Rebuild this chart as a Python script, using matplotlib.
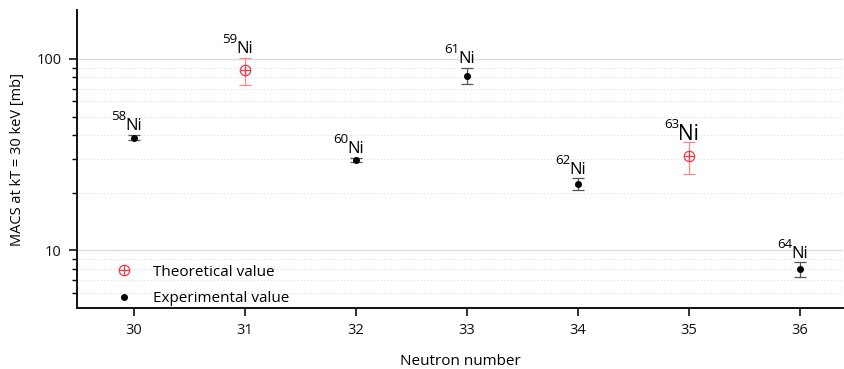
import matplotlib
matplotlib.use("Agg")
import matplotlib.pyplot as plt
import numpy as np
from matplotlib.path import Path
from matplotlib.ticker import NullFormatter, FixedLocator, FixedFormatter

plt.rcParams['font.family'] = ['Open Sans', 'DejaVu Sans']

# Data
neutrons = [30, 31, 32, 33, 34, 35, 36]
isotopes = ['58', '59', '60', '61', '62', '63', '64']
element = 'Ni'
macs = [38.8, 87.0, 29.8, 81.5, 22.3, 31.0, 8.0]
macs_err = [1.0, 14.0, 0.7, 8.0, 1.6, 6.0, 0.7]
is_theory = [False, True, False, False, False, True, False]

# label styling
label_size = [12, 12, 12, 12, 12, 15, 12]
label_gap_px = [5, 5, 5, 5, 4, 2, 4]
sup_raise_px = [10, 10, 10, 10, 10, 12, 10]
sup_size = 9.5

fig = plt.figure(figsize=(8.44, 3.69), dpi=100)
ax = fig.add_axes([77/844, (369-308)/369, (843-77)/844, (308-10)/369])

# circle-plus marker
circ = Path.unit_circle()
h = Path([[-1, 0], [1, 0]], [Path.MOVETO, Path.LINETO])
v = Path([[0, -1], [0, 1]], [Path.MOVETO, Path.LINETO])
oplus = Path.make_compound_path(circ, h, v)

red = '#ee3b45'
red_err = '#f08a8f'

xe = [n for n, t in zip(neutrons, is_theory) if not t]
ye = [m for m, t in zip(macs, is_theory) if not t]
ee = [e for e, t in zip(macs_err, is_theory) if not t]
xt = [n for n, t in zip(neutrons, is_theory) if t]
yt = [m for m, t in zip(macs, is_theory) if t]
et = [e for e, t in zip(macs_err, is_theory) if t]

ax.errorbar(xe, ye, yerr=ee, fmt='none', ecolor='#555555', elinewidth=0.9,
            capsize=4, capthick=0.9, zorder=3)
ax.errorbar(xt, yt, yerr=et, fmt='none', ecolor=red_err, elinewidth=0.9,
            capsize=4, capthick=0.9, zorder=3)
ax.plot(xt, yt, linestyle='none', marker=oplus, markersize=7.5,
        markerfacecolor='none', markeredgecolor=red, markeredgewidth=0.9,
        zorder=4, label='Theoretical value')
ax.plot(xe, ye, linestyle='none', marker='o', markersize=4,
        color='black', zorder=4, label='Experimental value')

ax.set_yscale('log')
ax.set_ylim(5, 180)
ax.set_xlim(29.49, 36.39)

ni_texts = []
for n, m, e, fs, gap in zip(neutrons, macs, macs_err, label_size, label_gap_px):
    ni = ax.annotate(element, xy=(n, m + e), xytext=(0, gap),
                     textcoords='offset pixels', ha='center', va='baseline',
                     fontsize=fs, color='black')
    ni_texts.append(ni)

fig.canvas.draw()
renderer = fig.canvas.get_renderer()
for ni, n, iso, m, e, gap, rz in zip(ni_texts, neutrons, isotopes, macs, macs_err,
                                     label_gap_px, sup_raise_px):
    w = ni.get_window_extent(renderer).width
    ax.annotate(iso, xy=(n, m + e), xytext=(-w / 2 + 1, gap + rz),
                textcoords='offset pixels', ha='right', va='baseline',
                fontsize=sup_size, color='black')

ax.yaxis.set_major_locator(FixedLocator([10, 100]))
ax.yaxis.set_major_formatter(FixedFormatter(['10', '100']))
ax.yaxis.set_minor_locator(FixedLocator([6, 7, 8, 9, 20, 30, 40, 50, 60, 70, 80, 90]))
ax.yaxis.set_minor_formatter(NullFormatter())
ax.set_xticks(neutrons)

ax.grid(True, which='major', axis='y', color='#dcdcdc', linewidth=0.9, linestyle='-')
ax.grid(True, which='minor', axis='y', color='#dddddd', linewidth=0.8, linestyle=(0, (1, 2)))
ax.set_axisbelow(True)

for s in ['top', 'right']:
    ax.spines[s].set_visible(False)
for s in ['left', 'bottom']:
    ax.spines[s].set_linewidth(1.4)
    ax.spines[s].set_color('#111111')

ax.tick_params(axis='both', which='major', direction='out', length=6, width=1.2,
               labelsize=10.5, colors='#111111', pad=5)
ax.tick_params(axis='y', which='minor', direction='out', length=3.5, width=1.0)

ax.set_xlabel('Neutron number', fontsize=11, labelpad=11)
ax.set_ylabel('MACS at kT = 30 keV [mb]', fontsize=10.5, labelpad=8)

ax.legend(loc='lower left', frameon=False, fontsize=11, bbox_to_anchor=(0.03, -0.025),
          handletextpad=0.9, borderaxespad=0.2, labelspacing=0.75)

fig.savefig('out.png', dpi=100)
